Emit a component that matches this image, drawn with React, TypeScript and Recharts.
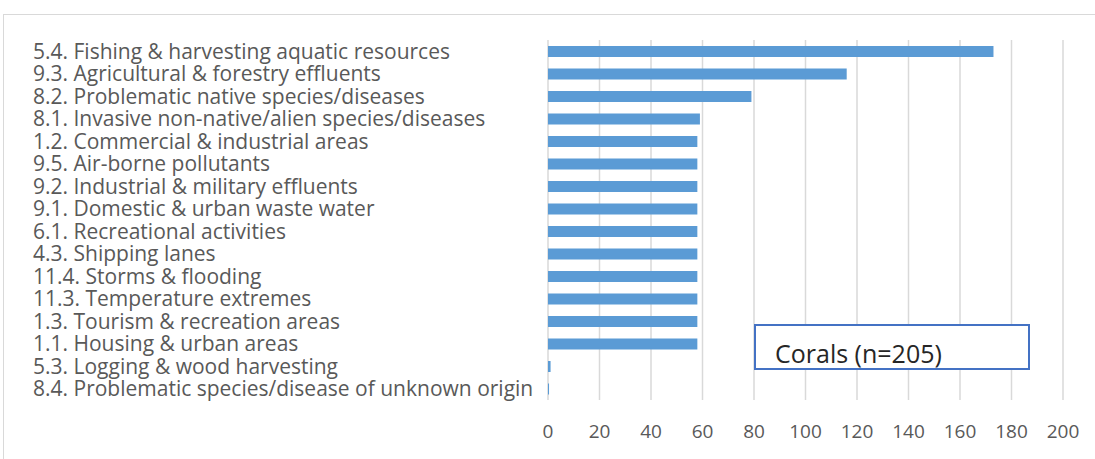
import React from 'react';
import { BarChart, Bar, XAxis, YAxis, CartesianGrid } from 'recharts';

const categories = [
  '5.4. Fishing & harvesting aquatic resources',
  '9.3. Agricultural & forestry effluents',
  '8.2. Problematic native species/diseases',
  '8.1. Invasive non-native/alien species/diseases',
  '1.2. Commercial & industrial areas',
  '9.5. Air-borne pollutants',
  '9.2. Industrial & military effluents',
  '9.1. Domestic & urban waste water',
  '6.1. Recreational activities',
  '4.3. Shipping lanes',
  '11.4. Storms & flooding',
  '11.3. Temperature extremes',
  '1.3. Tourism & recreation areas',
  '1.1. Housing & urban areas',
  '5.3. Logging & wood harvesting',
  '8.4. Problematic species/disease of unknown origin',
];

const values = [173, 116, 79, 59, 58, 58, 58, 58, 58, 58, 58, 58, 58, 58, 1, 0.4];

const xTicks = [0, 20, 40, 60, 80, 100, 120, 140, 160, 180, 200];

const legendLabel = 'Corals (n=205)';

const data = categories.map((name, i) => ({ name, value: values[i] }));

const FONT = '"Open Sans", Lato, sans-serif';

function CategoryTick(props: any) {
  const { y, payload } = props;
  return (
    <text
      x={33}
      y={y}
      dy="0.357em"
      textAnchor="start"
      fill="#595959"
      fontSize={21}
      fontFamily={FONT}
    >
      {payload.value}
    </text>
  );
}

export default function App() {
  return (
    <div
      style={{
        position: 'absolute',
        left: 0,
        top: 0,
        width: 1095,
        height: 459,
        background: '#fff',
        overflow: 'hidden',
      }}
    >
      <div
        style={{
          position: 'absolute',
          left: 3,
          top: 14,
          width: 1200,
          height: 600,
          borderLeft: '1px solid #d9d9d9',
          borderTop: '1px solid #d9d9d9',
        }}
      />
      <div style={{ position: 'absolute', left: 0, top: 0 }}>
        <BarChart
          width={1095}
          height={459}
          data={data}
          layout="vertical"
          margin={{ top: 40, right: 32, bottom: 28, left: 0 }}
        >
          <CartesianGrid horizontal={false} stroke="#d9d9d9" strokeWidth={1.5} />
          <XAxis
            type="number"
            domain={[0, 200]}
            ticks={xTicks}
            interval={0}
            axisLine={false}
            tickLine={false}
            tickMargin={19}
            height={31}
            tick={{ fill: '#595959', fontSize: 19, fontFamily: FONT }}
          />
          <YAxis
            type="category"
            dataKey="name"
            width={548}
            interval={0}
            axisLine={false}
            tickLine={false}
            tick={<CategoryTick />}
          />
          <Bar dataKey="value" fill="#5B9BD5" barSize={11} isAnimationActive={false} />
        </BarChart>
      </div>
      <div
        style={{
          position: 'absolute',
          left: 754,
          top: 324,
          width: 272,
          height: 42,
          border: '2px solid #4472C4',
          background: '#fff',
        }}
      >
        <span
          style={{
            position: 'absolute',
            left: 19,
            top: 15,
            fontFamily: FONT,
            fontSize: 25,
            lineHeight: '25px',
            color: '#262626',
            whiteSpace: 'nowrap',
          }}
        >
          {legendLabel}
        </span>
      </div>
    </div>
  );
}
